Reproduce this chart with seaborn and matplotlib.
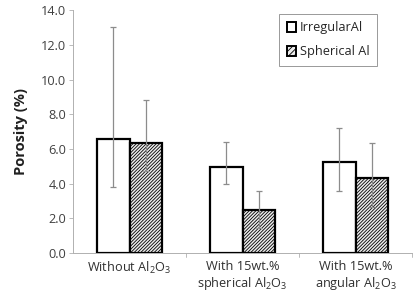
import matplotlib
matplotlib.use("Agg")
import matplotlib.pyplot as plt
import seaborn as sns
import pandas as pd
import numpy as np

categories = ["Without Al$_2$O$_3$", "With 15wt.%\nspherical Al$_2$O$_3$", "With 15wt.%\nangular Al$_2$O$_3$"]
series = ["IrregularAl", "Spherical Al"]
irregular = [6.55, 4.95, 5.22]
spherical = [6.32, 2.48, 4.30]
irregular_low = [3.8, 4.0, 3.57]
irregular_high = [13.0, 6.4, 7.2]
spherical_low = [4.7, 1.45, 2.65]
spherical_high = [8.8, 3.6, 6.33]
yticks = [0, 2, 4, 6, 8, 10, 12, 14]

sns.set_theme(style="white")
plt.rcParams['font.family'] = ['Open Sans', 'DejaVu Sans']
plt.rcParams['mathtext.fontset'] = 'custom'
plt.rcParams['mathtext.rm'] = 'Open Sans'
plt.rcParams['mathtext.it'] = 'Open Sans:italic'
plt.rcParams['mathtext.bf'] = 'Open Sans:bold'
plt.rcParams['hatch.linewidth'] = 0.6

df = pd.DataFrame({
    "cat": categories * 2,
    "series": [series[0]] * 3 + [series[1]] * 3,
    "val": irregular + spherical,
})

fig = plt.figure(figsize=(4.15, 2.98), dpi=100)
ax = fig.add_axes([0.176, 0.151, 0.817, 0.815])
sns.barplot(data=df, x="cat", y="val", hue="series", order=categories, hue_order=series,
            palette=["white", "#ececec"], width=0.58, gap=0, errorbar=None,
            edgecolor="black", linewidth=1.6, ax=ax)

lows = [irregular_low, spherical_low]
highs = [irregular_high, spherical_high]
vals = [irregular, spherical]
bar_containers = list(ax.containers)
for si, cont in enumerate(bar_containers):
    for bi, patch in enumerate(cont.patches):
        if si == 1:
            patch.set_hatch("//////////")
        xc = patch.get_x() + patch.get_width() / 2
        v = vals[si][bi]
        ax.errorbar([xc], [v], yerr=[[v - lows[si][bi]], [highs[si][bi] - v]],
                    fmt="none", ecolor="#8c8c8c", elinewidth=0.9, capsize=2.5, capthick=0.9, zorder=5)

ax.set_ylim(0, 14)
ax.set_xlim(-0.5, 2.5)
ax.set_yticks(yticks)
ax.set_yticklabels([f"{t:.1f}" for t in yticks])
ax.set_xlabel("")
ax.set_ylabel("Porosity (%)", fontsize=10.5, fontweight="bold", color="#202020", labelpad=9)
ax.set_xticks([0, 1, 2])
ax.set_xticklabels(categories, fontsize=9.2, color="#303030")
ax.tick_params(axis="y", labelsize=9.2, colors="#404040", length=3, width=0.6, left=True, color="#b0b0b0", pad=2)
ax.tick_params(axis="x", length=0, pad=5)
for b in [0.5, 1.5, 2.5]:
    ax.plot([b, b], [0, -0.25], color="#b0b0b0", lw=0.6, clip_on=False, transform=ax.transData)
for s in ["top", "right"]:
    ax.spines[s].set_visible(False)
for s in ["left", "bottom"]:
    ax.spines[s].set_color("#b0b0b0")
    ax.spines[s].set_linewidth(0.7)

leg = ax.legend(loc="upper right", bbox_to_anchor=(0.896, 0.985), fontsize=9.2, frameon=True,
                handlelength=0.75, handleheight=0.75, handletextpad=0.25, borderpad=0.6,
                labelspacing=0.85, fancybox=False, edgecolor="#808080", borderaxespad=0)
leg.get_frame().set_linewidth(0.7)
for h in leg.legend_handles:
    h.set_linewidth(1.4)
    h.set_edgecolor("black")
leg.legend_handles[1].set_hatch("//////")

fig.savefig("out.png", dpi=100)
